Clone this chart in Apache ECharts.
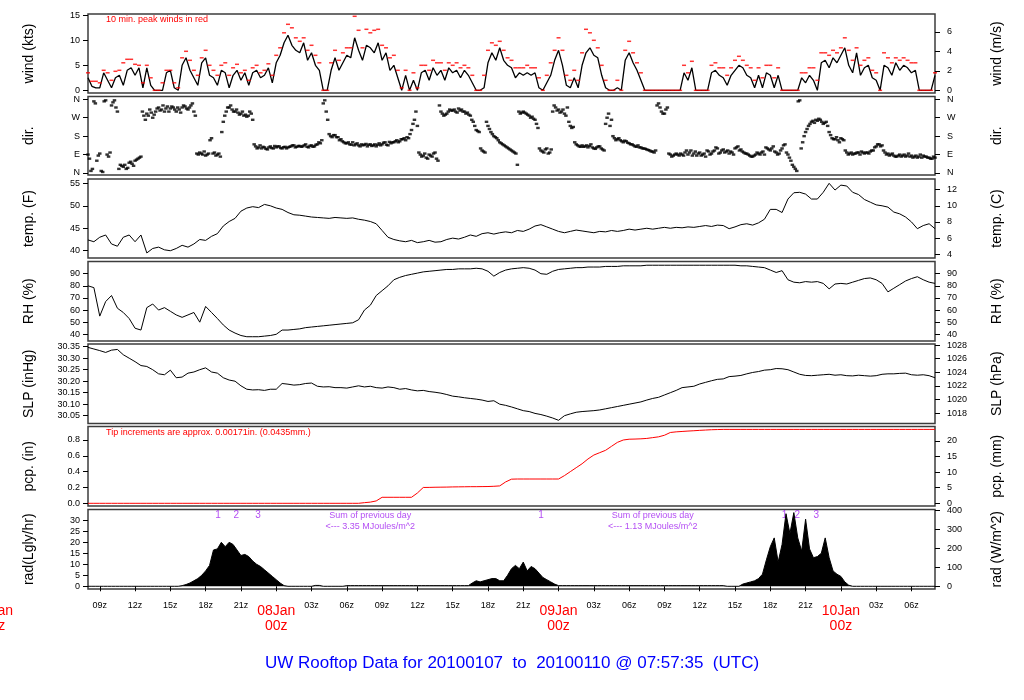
<!DOCTYPE html>
<html><head><meta charset="utf-8">
<script src="https://cdn.jsdelivr.net/npm/echarts@6/dist/echarts.min.js"></script>
<style>html,body{margin:0;padding:0;background:#fff}#c{width:1024px;height:700px}</style>
</head><body><div id="c"></div>
<script>
// hours since 2010-01-07 00z
const startHour = 8, endHour = 80;
const windStepH = 1/3;
const windKts = [
2.5,0.8,0.5, 0.5,3.5,2.0, 0.5,2.5,3.0, 1.0,4.0,4.5, 3.0,4.5,0.5, 4.5,1.0,0, 0,0,3.5, 4.0,0.5,0,
5.0,6.5,4.0, 2.5,1.0,5.5, 6.5,3.0,2.5, 1.0,4.0,3.5, 0.5,3.0,4.0, 2.0,3.5,1.0, 3.5,4.0,2.5, 3.0,4.5,1.5,
5.5,7.0,9.5, 11.0,9.0,8.0, 7.5,9.5,6.0, 7.5,5.0,4.0, 0,0,4.0, 6.5,4.0,5.5, 7.0,6.5,10.5, 8.0,6.0,9.0,
8.5,7.5,9.5, 6.0,7.5,4.0, 5.0,2.5,0, 3.0,0,2.0, 0,3.5,4.0, 2.0,4.5,3.0, 4.0,2.0,4.5, 3.5,4.0,2.5,
4.0,3.0,1.5, 0,0,0.5, 5.5,7.5,6.0, 8.5,6.0,5.0, 4.5,2.5,3.5, 3.0,3.5,3.0, 3.5,0.5,0, 1.5,3.0,6.0,
8.0,5.0,1.0, 0.5,2.5,0.5, 5.0,7.5,8.5, 7.0,6.5,3.0, 0.5,0,0, 0.5,0,6.0, 7.5,5.5,4.0, 2.0,0,0,
0,0,0, 0,0,0, 0,0,3.5, 2.0,4.5,0, 0,0,0, 3.5,4.0,3.0, 2.5,1.0,3.0, 4.0,5.0,4.5,
3.0,2.5,0.5, 3.0,0.5,3.5, 3.0,0.5,3.0, 0,0,0, 0,0,2.5, 1.5,3.0,2.0, 0,5.5,6.0, 4.5,6.5,5.5,
7.0,8.5,5.0, 3.5,7.5,3.0, 4.5,5.0,2.5, 2.0,0,5.0, 4.5,3.0,5.5, 4.0,5.0,4.5, 3.5,4.0,0, 0,0,0,
3.0];
const windPeakKts = [
3.5,1.8,1.8, 1.5,4.0,3.5, 2.0,3.8,4.0, 5.5,6.2,6.2, 5.2,5.0,1.5, 5.0,2.5,0, 0,1.5,4.0, 4.0,1.5,0.5,
6.5,7.8,6.0, 4.0,3.0,6.5, 8.0,5.0,4.0, 3.0,5.0,5.5, 3.0,4.5,5.2, 3.5,4.0,2.0, 4.5,5.0,3.5, 4.0,5.3,3.0,
7.0,8.5,11.5, 13.2,12.5,10.5, 9.8,10.5,8.0, 9.0,7.0,5.5, 0,0,5.5, 8.0,6.0,7.5, 8.5,8.5,14.8, 12.0,8.5,12.2,
11.5,12.0,12.2, 9.0,8.5,6.5, 7.0,4.0,0.5, 4.0,0,3.5, 0.5,5.0,5.0, 4.0,6.0,5.5, 5.5,4.0,5.5, 5.0,5.5,4.5,
5.0,4.5,3.0, 0,0,3.0, 8.0,9.5,9.0, 9.8,8.0,6.5, 6.0,4.5,4.5, 4.5,5.0,4.5, 4.5,2.5,0, 3.0,5.5,8.0,
10.5,8.0,3.0, 2.0,4.0,2.0, 7.5,12.2,11.5, 10.0,8.5,5.0, 2.0,0,0, 2.0,0,8.0, 9.8,7.5,5.5, 3.5,0,0,
0,0,0, 0,0,0, 0,0,5.0, 3.5,5.8,0, 0,0,0, 5.0,5.5,4.5, 4.5,3.0,4.5, 6.0,6.8,6.0,
5.0,4.5,2.0, 4.5,2.5,5.0, 5.0,2.5,4.5, 0,0,0, 0,0,3.5, 3.5,4.5,4.5, 2.0,7.5,7.5, 7.0,8.0,7.5,
8.5,10.5,8.0, 6.0,8.5,5.0, 6.0,6.5,4.0, 3.5,0,7.5, 6.5,5.5,6.5, 6.0,6.5,6.0, 5.5,5.5,0, 0,0,0,
3.5];
const dirStepH = 0.25;
const dirDeg = [
90,10,350,60, 95,5,355,80, 330,355,300,40, 30,20,50,45, 60,70,80,280, 290,310,270,300,
320,310,300,325, 315,320,300,310, 320,325,310,330, 300,95,100,90, 85,95,170,100, 90,80,250,300,
320,310,300,295, 290,280,275,300, 260,130,125,120, 125,115,130,120, 125,130,120,128, 125,130,135,128,
132,130,140,125, 135,130,140,145, 340,300,190,175, 185,175,165,150, 145,140,150,140, 135,140,138,130,
140,135,130,145, 140,150,135,145, 150,160,155,165, 160,170,210,260, 230,90,85,75, 90,80,100,60,
300,280,290,310, 305,300,315,310, 300,295,280,250, 210,200,110,100, 230,200,180,170, 150,140,130,120,
110,100,40,290, 300,290,280,275, 260,220,110,100, 120,100,300,320, 310,300,290,320, 230,225,140,130,
135,130,125,140, 120,125,130,115, 240,290,260,170, 165,160,150,155, 145,140,130,135, 125,120,115,110,
105,110,340,300, 290,320,90,85, 95,85,90,100, 90,110,95,85, 100,90,80,105, 95,110,120,100,
115,105,95,100, 120,130,115,100, 95,85,80,90, 95,100,90,120, 110,130,100,95, 120,140,90,60,
30,10,355,150, 200,230,250,245, 255,260,240,250, 200,170,165,160, 170,160,100,95, 90,95,100,105,
95,100,105,110, 130,140,135,100, 95,90,85,80, 90,85,80,95, 85,80,75,90, 85,80,75,70,
75];
// second set of direction readings, 7.5 min after each of the above
const dirOffsetH = 0.125;
const dirDeg2 = [
70,20,340,85, 10,350,90,100, 345,320,20,35, 40,25,55,35, 65,75,300,260, 280,295,285,315,
305,330,315,300, 325,310,320,295, 330,315,320,340, 280,90,95,105, 90,160,95,85, 95,200,280,320,
330,300,310,285, 300,285,280,290, 140,120,135,128, 118,125,122,132, 130,122,126,120, 128,135,125,132,
128,135,128,133, 128,138,150,160, 355,260,180,185, 175,160,155,145, 150,138,135,145, 130,135,142,138,
132,140,138,135, 148,138,152,150, 155,150,165,170, 175,190,240,300, 100,80,95,70, 85,95,70,330,
290,285,300,305, 310,295,305,300, 290,285,260,230, 205,120,105,250, 215,190,175,160, 145,135,125,115,
105,95,300,295, 295,285,270,265, 240,120,105,115, 95,115,330,305, 295,310,280,250, 220,150,135,128,
128,135,132,125, 118,130,120,110, 270,230,180,160, 170,155,158,148, 140,135,128,125, 120,118,112,105,
100,330,320,290, 310,95,80,90, 90,95,85,110, 100,85,105,95, 85,95,110,90, 105,125,95,110,
100,110,105,90, 125,110,105,95, 90,80,85,100, 90,105,125,115, 120,105,90,110, 135,100,75,40,
20,350,120,180, 215,240,255,260, 265,250,245,230, 185,165,175,150, 165,110,90,100, 95,100,90,100,
100,95,110,125, 140,130,110,90, 85,95,80,85, 80,90,85,80, 75,85,80,75, 80,75,70,80];
const halfStepH = 0.5;
const tempF = [
42.4,42.0,43.0,43.5,41.5,41.0,43.0,43.5,42.0,43.5,
39.5,40.5,40.8,40.2,40.0,40.5,41.2,40.8,41.5,42.5,
42.3,43.2,43.8,45.5,46.5,47.2,48.8,49.5,49.8,49.6,
50.3,50.0,49.5,49.2,48.5,48.0,47.9,47.7,47.5,47.4,
47.3,47.2,47.4,47.3,47.2,47.3,47.0,46.8,46.5,46.0,
44.5,43.0,42.5,42.2,42.0,42.3,41.8,42.0,42.3,41.9,
42.0,42.5,42.8,42.6,43.0,43.5,43.2,43.8,44.0,43.7,
44.0,44.2,44.0,44.5,44.3,44.8,45.5,45.8,45.3,44.8,
44.3,44.0,44.3,44.6,44.4,44.2,44.0,44.3,44.2,44.5,
44.3,44.5,44.8,44.6,44.8,45.0,44.8,45.0,45.2,45.0,
45.2,45.1,45.3,45.2,45.4,45.6,45.4,45.7,45.6,44.9,
45.3,45.8,46.0,45.7,46.2,47.0,49.2,49.2,48.5,51.5,
52.9,53.0,52.6,51.5,51.5,53.0,55.0,53.5,54.6,54.4,
53.0,52.5,51.4,50.8,50.2,50.0,49.7,48.6,48.2,47.5,
46.4,44.9,45.6,46.0,44.9];
const rhPct = [
80,78.5,55,67,72,61.5,58,53,45,43.5,
62,65,60,62,59,56,54,56,58,50,
63,58,53,47.7,43.5,41,39,38,38,38,
38.5,39,40,43.5,43.5,44,44.5,45.5,46,46.5,
47,47.5,48,48.5,49,49.5,52,60,64,72,
76,80,85,87,88.5,89.5,90.5,91.5,92,92.5,
93,93.5,93.5,94,94,94,94.5,94,92,88,
91,93,94,94.5,95,94.5,93,90,89.5,92,
93.5,94,94.5,95,95,95.5,95.5,95.5,96,96,
96,96.5,96.5,96.5,96.5,97,97,97,97,97,
97,97,97,97,97,97,97,97,97,97,
97,96.5,96.5,96,95.5,95,93,91,92.5,85,
83,82.5,83.5,83,83.5,82,77.5,81.5,82,81.5,
83,84.5,86,86.5,85,82,75,78,81,84,
86,87.5,85,83,82];
const slpIn = [
30.347,30.340,30.333,30.325,30.335,30.338,30.315,30.300,30.285,30.268,
30.264,30.250,30.232,30.228,30.248,30.215,30.218,30.235,30.240,30.250,
30.258,30.240,30.235,30.215,30.205,30.200,30.180,30.165,30.162,30.163,
30.160,30.165,30.165,30.190,30.187,30.183,30.185,30.190,30.192,30.178,
30.175,30.176,30.172,30.172,30.170,30.175,30.180,30.175,30.178,30.172,
30.170,30.175,30.172,30.165,30.168,30.162,30.158,30.160,30.155,30.152,
30.148,30.142,30.135,30.132,30.128,30.125,30.122,30.118,30.112,30.115,
30.100,30.095,30.088,30.080,30.072,30.068,30.060,30.055,30.048,30.040,
30.030,30.050,30.058,30.065,30.068,30.070,30.072,30.075,30.080,30.085,
30.090,30.095,30.100,30.105,30.110,30.118,30.125,30.130,30.140,30.150,
30.160,30.172,30.175,30.178,30.188,30.195,30.202,30.208,30.210,30.220,
30.222,30.225,30.232,30.238,30.242,30.248,30.250,30.255,30.254,30.250,
30.240,30.230,30.225,30.224,30.226,30.228,30.230,30.226,30.228,30.224,
30.223,30.226,30.224,30.222,30.224,30.230,30.232,30.232,30.234,30.235,
30.228,30.226,30.228,30.224,30.215];
const pcpIn = [
0,0,0,0,0,0,0,0,0,0,
0,0,0,0,0,0,0,0,0,0,
0,0,0,0,0,0,0,0,0,0,
0,0,0,0,0,0,0,0,0,0,
0,0,0,0,0,0,0,0.008,0.015,0.03,
0.076,0.076,0.076,0.076,0.076,0.076,0.13,0.20,0.201,0.203,
0.204,0.205,0.207,0.208,0.209,0.21,0.21,0.211,0.212,0.215,
0.22,0.27,0.305,0.307,0.307,0.307,0.307,0.307,0.307,0.307,
0.307,0.35,0.40,0.45,0.50,0.56,0.61,0.64,0.67,0.72,
0.77,0.80,0.81,0.812,0.815,0.82,0.83,0.84,0.86,0.895,
0.903,0.908,0.913,0.917,0.922,0.926,0.93,0.932,0.934,0.934,
0.934,0.934,0.934,0.934,0.934,0.934,0.934,0.934,0.934,0.934,
0.934,0.934,0.934,0.934,0.934,0.934,0.934,0.934,0.934,0.934,
0.934,0.934,0.934,0.934,0.934,0.934,0.934,0.934,0.934,0.934,
0.934,0.934,0.934,0.934,0.934];
const radStepH = 1/3;
const radLy = [
0,0,0,0,0,0,0,0,0,0,0,0,0,0,0,0,0,0,0,0,0,0,0,0,
0.3,0.8,1.5,2.5,3.5,5.0,7.0,9.5,16.5,17.0,20.0,18.0,20.0,19.0,16.5,14.0,14.5,13.5,11.5,10.0,9.0,7.5,6.0,4.5,3.0,1.5,0.3,
0,0,0,0,0,0,0, 0.4,0.4, 0,0,0,0,0,0,
0.3,0.3,0.3,0.3,0.3,0.3,0.3,0.3,0.3,0.3,0.3,0.3,0.3,0.3,0.3,0.3,0.3,0.3,0.3,0.3,0.3,0.3,0.3,0.3,0.3,0.3,0.3,0.3,0.3,0.3,0.3,0.3,
1.5,2.5,2.0,2.5,3.0,3.5,3.5,2.5,2.5,5.0,8.0,9.5,8.0,11.0,7.0,9.0,8.0,6.0,4.0,3.0,2.0,1.0,
0.3,0.3,0.3,0.3,0.3,0.3,0.3,0.3,0.3,0.3,0.3,0.3,0.3,0.3,0.3,0.3,0.3,0.3,0.3,0.3,0.3,0.3,0.3,0.3,0.3,0.3,0.3,0.3,0.3,0.3,0.3,0.3,0.3,0.3,0.3,0.3,0.3,0.3,0.3,0.3,0.3,0.3,0.3,
0,0,0,0,
1.0,1.5,2.0,2.5,3.5,5.5,12.0,18.0,22.0,11.0,19.0,33.0,24.0,33.5,22.0,16.0,30.5,17.0,13.0,13.5,15.0,22.0,13.0,7.0,5.5,4.5,2.0,0.5,
0,0,0,0,0,0,0,0,0,0,0,0,0,0,0,0,0,0,0,0,0,0];
const xTickHours = [9,12,15,18,21,24,27,30,33,36,39,42,45,48,51,54,57,60,63,66,69,72,75,78];
const dayHours = [0,24,48,72];
const dayLabels = ['07Jan','08Jan','09Jan','10Jan'];
const radMarkHours = [19.05,20.6,22.45,46.5,67.2,68.3,69.9];
const radMarkLabels = ['1','2','3','1','1','2','3'];
const sumHours = [32,56];
const sumTexts = ['Sum of previous day\n<--- 3.35 MJoules/m^2','Sum of previous day\n<--- 1.13 MJoules/m^2'];
const windTicksKts=[0,5,10,15], windTicksMs=[0,2,4,6];
const dirTicks=[0,90,180,270,360], dirNames={0:'N',90:'E',180:'S',270:'W',360:'N'};
const tempTicksF=[40,45,50,55], tempTicksC=[4,6,8,10,12];
const rhTicks=[40,50,60,70,80,90];
const slpTicksIn=[30.05,30.10,30.15,30.20,30.25,30.30,30.35], slpTicksHpa=[1018,1020,1022,1024,1026,1028];
const pcpTicksIn=[0,0.2,0.4,0.6,0.8], pcpTicksMm=[0,5,10,15,20];
const radTicksLy=[0,5,10,15,20,25,30], radTicksW=[0,100,200,300,400];

const FONT = '"Liberation Sans", Arial, Helvetica, sans-serif';
const pad2 = n => (n < 10 ? '0' : '') + n;
const pairs = (arr, step, off) => arr.map((v, i) => [startHour + (off || 0) + i * step, v]);

const chart = echarts.init(document.getElementById('c'), null, {renderer: 'canvas'});
const boxes = [[14,79],[96.5,78.5],[179,79],[261.5,79.5],[344,79.5],[426.5,79.5],[509.5,79.5]];
const grid = boxes.map(b => ({left: 88, right: 89, top: b[0], height: b[1], show: true,
  borderColor: '#3c3c3c', borderWidth: 1.5, backgroundColor: 'transparent'}));

const xAxis = boxes.map((b, i) => ({
  type: 'value', gridIndex: i, min: startHour, max: endHour, show: i === 6,
  axisLine: {show: false}, splitLine: {show: false},
  axisTick: {show: true, length: 5, customValues: xTickHours, lineStyle: {color: '#000'}},
  axisLabel: {customValues: xTickHours, fontSize: 9, color: '#000', fontFamily: FONT, margin: 12,
    formatter: v => (v % 24 === 0 ? '' : pad2(v % 24) + 'z')}
}));

function yAx(g, pos, min, max, ticks, fmt, name) {
  return {type: 'value', gridIndex: g, position: pos, min: min, max: max, name: name,
    nameLocation: 'middle', nameGap: pos === 'left' ? 52 : 55, nameRotate: 90,
    nameTextStyle: {fontSize: 14, color: '#000', fontFamily: FONT},
    axisLine: {show: false}, splitLine: {show: false},
    axisTick: {show: true, length: 5, customValues: ticks, lineStyle: {color: '#000'}},
    axisLabel: {customValues: ticks, formatter: fmt, fontSize: 9, color: '#000', fontFamily: FONT,
      margin: pos === 'left' ? 8 : 12}};
}
const KT2MS = 0.514444, IN2HPA = 1 / 0.02953, IN2MM = 25.4, LY2W = 11.622;
const F2C = f => (f - 32) * 5 / 9;
const wMin = -0.54, wMax = 15.26, dMin = -9.8, dMax = 373.7, tMin = 38.38, tMax = 55.96,
  rMin = 34.47, rMax = 100.07, sMin = 30.0161, sMax = 30.3617, pMin = -0.0341, pMax = 0.9707,
  qMin = -1.23, qMax = 34.91;
const num = v => String(v);
const yAxis = [
  yAx(0,'left',wMin,wMax,windTicksKts,num,'wind (kts)'),
  yAx(0,'right',wMin*KT2MS,wMax*KT2MS,windTicksMs,num,'wind (m/s)'),
  yAx(1,'left',dMin,dMax,dirTicks,v=>dirNames[v],'dir.'),
  yAx(1,'right',dMin,dMax,dirTicks,v=>dirNames[v],'dir.'),
  yAx(2,'left',tMin,tMax,tempTicksF,num,'temp. (F)'),
  yAx(2,'right',F2C(tMin),F2C(tMax),tempTicksC,num,'temp. (C)'),
  yAx(3,'left',rMin,rMax,rhTicks,num,'RH (%)'),
  yAx(3,'right',rMin,rMax,rhTicks,num,'RH (%)'),
  yAx(4,'left',sMin,sMax,slpTicksIn,v=>v.toFixed(2),'SLP (inHg)'),
  yAx(4,'right',sMin*IN2HPA,sMax*IN2HPA,slpTicksHpa,num,'SLP (hPa)'),
  yAx(5,'left',pMin,pMax,pcpTicksIn,v=>v.toFixed(1),'pcp. (in)'),
  yAx(5,'right',pMin*IN2MM,pMax*IN2MM,pcpTicksMm,num,'pcp. (mm)'),
  yAx(6,'left',qMin,qMax,radTicksLy,num,'rad(Lgly/hr)'),
  yAx(6,'right',qMin*LY2W,qMax*LY2W,radTicksW,num,'rad (W/m^2)')
];

const lineBase = {type: 'line', symbol: 'none', showSymbol: false, animation: false};
const dirStyle = {type: 'scatter', xAxisIndex: 1, yAxisIndex: 2, symbol: 'rect', symbolSize: [3.5, 2.4], itemStyle: {color: '#000'}, animation: false};
const series = [
  Object.assign({}, lineBase, {xAxisIndex: 0, yAxisIndex: 0, data: pairs(windKts, windStepH), lineStyle: {color: '#000', width: 1.3}, z: 2}),
  {type: 'scatter', xAxisIndex: 0, yAxisIndex: 0, data: pairs(windPeakKts, windStepH), symbol: 'rect', symbolSize: [4, 1.5], itemStyle: {color: '#ff0000'}, z: 3, animation: false},
  Object.assign({}, dirStyle, {data: pairs(dirDeg, dirStepH)}),
  Object.assign({}, dirStyle, {data: pairs(dirDeg2, dirStepH, dirOffsetH)}),
  Object.assign({}, lineBase, {xAxisIndex: 2, yAxisIndex: 4, data: pairs(tempF, halfStepH), lineStyle: {color: '#000', width: 1}}),
  Object.assign({}, lineBase, {xAxisIndex: 3, yAxisIndex: 6, data: pairs(rhPct, halfStepH), lineStyle: {color: '#000', width: 1}}),
  Object.assign({}, lineBase, {xAxisIndex: 4, yAxisIndex: 8, data: pairs(slpIn, halfStepH), lineStyle: {color: '#000', width: 1}}),
  Object.assign({}, lineBase, {xAxisIndex: 5, yAxisIndex: 10, data: pairs(pcpIn, halfStepH), lineStyle: {color: '#ff0000', width: 1}}),
  Object.assign({}, lineBase, {xAxisIndex: 6, yAxisIndex: 12, data: pairs(radLy, radStepH), lineStyle: {color: '#000', width: 1}, areaStyle: {color: '#000', opacity: 1}}),
  {type: 'scatter', xAxisIndex: 6, yAxisIndex: 12, symbolSize: 0.1, itemStyle: {color: 'transparent'}, animation: false,
    data: radMarkHours.map((h, i) => [h, 32.4, radMarkLabels[i]]),
    label: {show: true, position: 'inside', formatter: p => p.value[2], color: '#a020f0', fontSize: 10, fontFamily: FONT}},
  {type: 'scatter', xAxisIndex: 6, yAxisIndex: 12, symbolSize: 0.1, itemStyle: {color: 'transparent'}, animation: false,
    data: sumHours.map((h, i) => [h, 29.45, sumTexts[i]]),
    label: {show: true, position: 'inside', formatter: p => p.value[2], color: '#a020f0', fontSize: 9, lineHeight: 11, fontFamily: FONT}}
];

chart.setOption({
  animation: false,
  backgroundColor: '#fff',
  title: {text: 'UW Rooftop Data for 20100107  to  20100110 @ 07:57:35  (UTC)', left: 'center', top: 650,
    textStyle: {color: '#0000ff', fontSize: 17, fontWeight: 'normal', fontFamily: FONT}},
  grid: grid, xAxis: xAxis, yAxis: yAxis, series: series
});

const elements = [
  {type: 'text', x: 106, y: 20, style: {text: '10 min. peak winds in red', fill: '#ff0000', fontSize: 9, fontFamily: FONT, verticalAlign: 'middle'}},
  {type: 'text', x: 106, y: 433, style: {text: 'Tip increments are approx. 0.00171in. (0.0435mm.)', fill: '#ff0000', fontSize: 9, fontFamily: FONT, verticalAlign: 'middle'}}
];
dayHours.forEach((h, i) => {
  const x = chart.convertToPixel({xAxisIndex: 6}, h);
  elements.push({type: 'text', x: x, y: 604, style: {text: dayLabels[i] + '\n00z', fill: '#ff0000', fontSize: 14,
    fontFamily: FONT, align: 'center', verticalAlign: 'top', lineHeight: 15}});
});
chart.setOption({graphic: {elements: elements}});
</script>
</body></html>
